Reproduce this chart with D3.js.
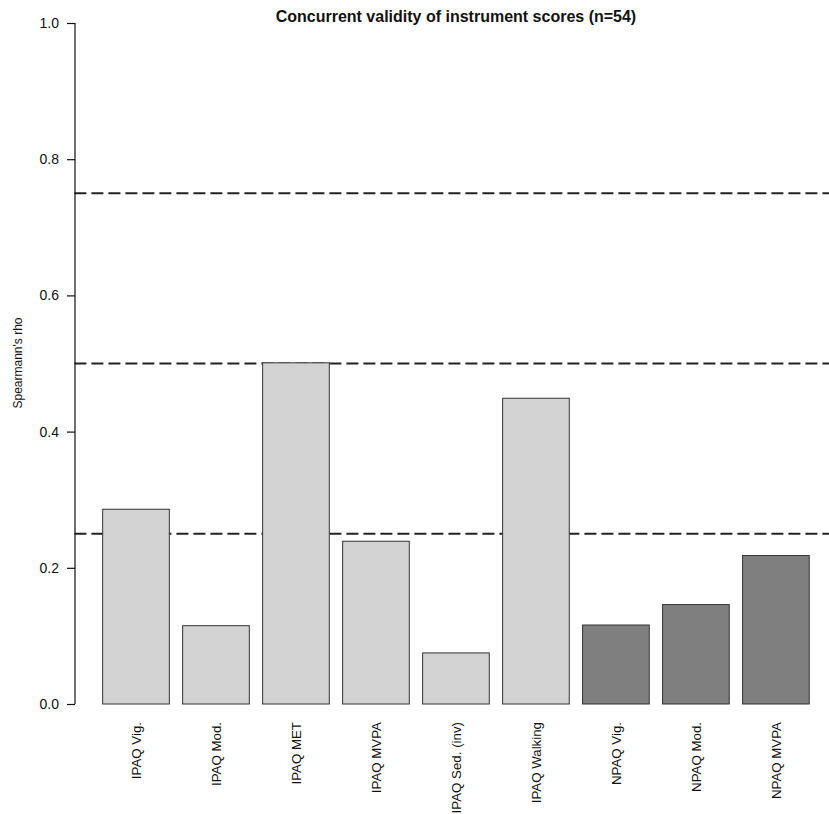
<!DOCTYPE html>
<html>
<head>
<meta charset="utf-8">
<script src="https://cdn.jsdelivr.net/npm/d3@7/dist/d3.min.js"></script>
<style>
  html, body { margin: 0; padding: 0; background: #fff; }
  svg { display: block; font-family: "Liberation Sans", Arial, Helvetica, sans-serif; }
</style>
</head>
<body>
<svg id="chart" width="829" height="814"></svg>
<script>
// Spearman correlations of each instrument score with the criterion measure
const categories = ["IPAQ Vig.", "IPAQ Mod.", "IPAQ MET", "IPAQ MVPA", "IPAQ Sed. (inv)",
                    "IPAQ Walking", "NPAQ Vig.", "NPAQ Mod.", "NPAQ MVPA"];
const rhoValues = [0.286, 0.115, 0.501, 0.239, 0.075, 0.449, 0.116, 0.146, 0.218];
const instrument = ["IPAQ", "IPAQ", "IPAQ", "IPAQ", "IPAQ", "IPAQ", "NPAQ", "NPAQ", "NPAQ"];
const referenceLines = [0.25, 0.5, 0.75];
const yTicks = [0.0, 0.2, 0.4, 0.6, 0.8, 1.0];
const titleText = "Concurrent validity of instrument scores (n=54)";
const yLabel = "Spearmann's rho";

const fillFor = { IPAQ: "#d3d3d3", NPAQ: "#7f7f7f" };

const svg = d3.select("#chart");

// barplot-style layout: bar width 1, gap 0.2, in user units
const barW = 1, gap = 0.2;
const lefts = categories.map((_, i) => gap + i * (barW + gap));
const xMin = gap, xMax = gap + categories.length * (barW + gap) - gap;
const pad = (xMax - xMin) * 0.04;

const x = d3.scaleLinear().domain([xMin - pad, xMax + pad]).range([74.4, 837.5]);
const y = d3.scaleLinear().domain([0, 1]).range([704, 23]);

// reference thresholds
svg.append("g").selectAll("line").data(referenceLines).join("line")
  .attr("x1", x(xMin - pad)).attr("x2", 829)
  .attr("y1", d => y(d)).attr("y2", d => y(d))
  .attr("stroke", "#222").attr("stroke-width", 2)
  .attr("stroke-dasharray", "12,5");

// bars
svg.append("g").selectAll("rect").data(categories).join("rect")
  .attr("x", (d, i) => x(lefts[i]))
  .attr("width", (d, i) => x(lefts[i] + barW) - x(lefts[i]))
  .attr("y", (d, i) => y(rhoValues[i]))
  .attr("height", (d, i) => y(0) - y(rhoValues[i]))
  .attr("fill", (d, i) => fillFor[instrument[i]])
  .attr("stroke", "#333").attr("stroke-width", 1);

// y axis
const yAxis = d3.axisLeft(y).tickValues(yTicks).tickFormat(d3.format(".1f"))
  .tickSize(8).tickPadding(8);
const gy = svg.append("g").attr("transform", `translate(${x(xMin - pad) + 0.6},0)`).call(yAxis);
gy.select(".domain").attr("d", `M0,${y(0)}V${y(1)}`).attr("stroke", "#111").attr("stroke-width", 1.2);
gy.selectAll(".tick line").attr("stroke", "#111").attr("stroke-width", 1.2);
gy.selectAll(".tick text").attr("font-size", 14).attr("fill", "#111")
  .attr("font-family", "Liberation Sans, Arial, sans-serif");

// category labels, rotated
svg.append("g").selectAll("text").data(categories).join("text")
  .attr("transform", (d, i) => `translate(${x(lefts[i] + barW / 2) + 5},722) rotate(-90)`)
  .attr("text-anchor", "end")
  .attr("font-size", 13.3).attr("fill", "#111")
  .text(d => d);

// y label
svg.append("text")
  .attr("transform", `translate(22,363) rotate(-90)`)
  .attr("text-anchor", "middle")
  .attr("font-size", 12).attr("fill", "#111")
  .text(yLabel);

// title
svg.append("text")
  .attr("x", (x(xMin - pad) + x(xMax + pad)) / 2).attr("y", 22)
  .attr("text-anchor", "middle")
  .attr("font-size", 16).attr("font-weight", "bold").attr("fill", "#111")
  .text(titleText);
</script>
</body>
</html>
